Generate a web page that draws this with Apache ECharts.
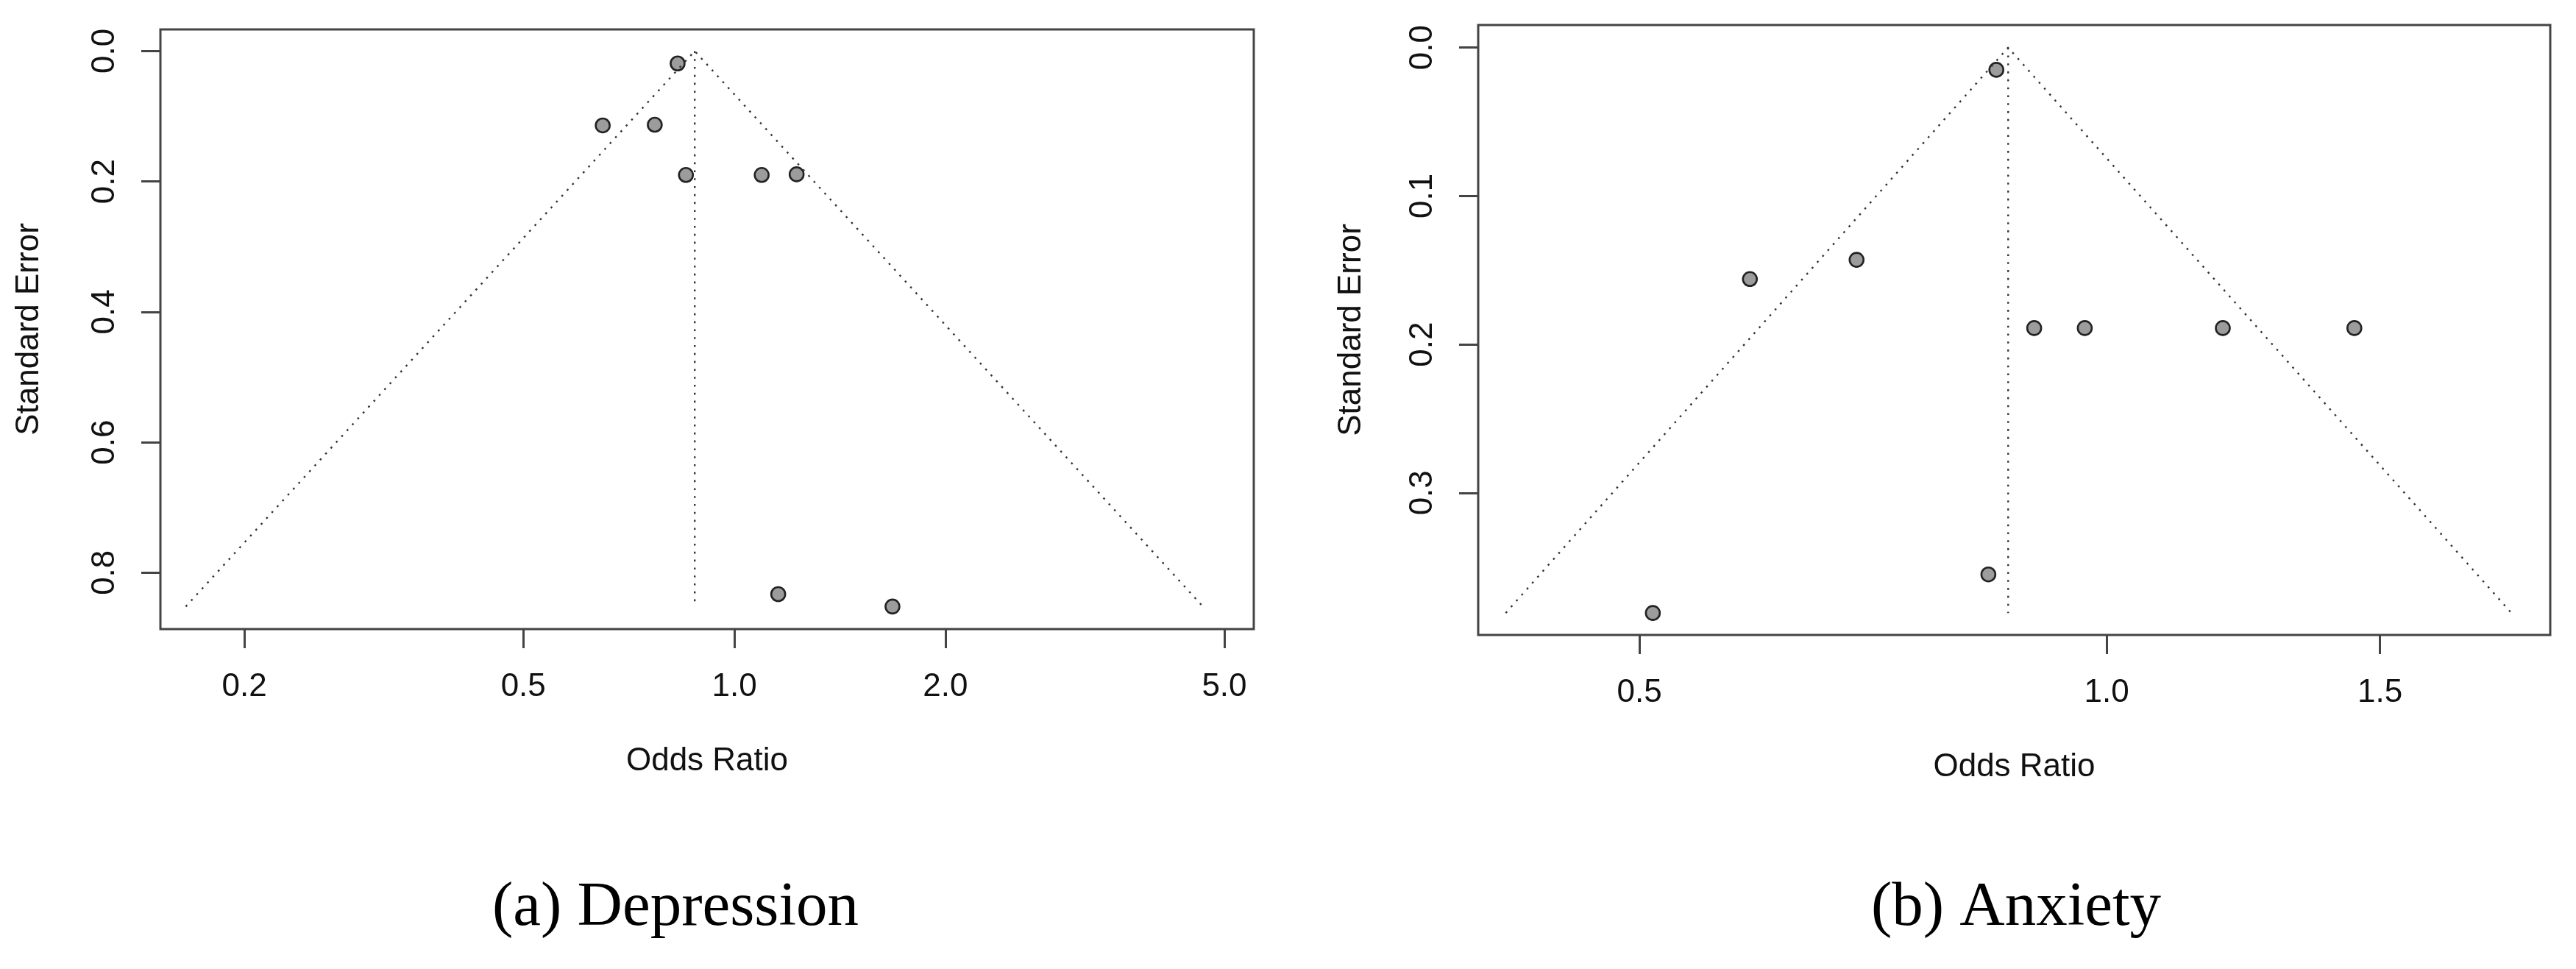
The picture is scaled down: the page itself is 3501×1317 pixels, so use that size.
<!DOCTYPE html>
<html>
<head>
<meta charset="utf-8">
<script src="https://cdn.jsdelivr.net/npm/echarts@6/dist/echarts.min.js"></script>
<style>
  html, body { margin: 0; padding: 0; background: #fff; }
  #chart { width: 3501px; height: 1317px; }
</style>
</head>
<body>
<div id="chart"></div>
<script>
// (a) Depression - odds ratio and standard error of each study
var depOR = [0.830, 0.649, 0.770, 0.853, 1.094, 1.227, 1.155, 1.681];
var depSE = [0.019, 0.114, 0.113, 0.190, 0.190, 0.189, 0.833, 0.852];
// pooled estimate, funnel edges at the largest SE
var depPooled = 0.878;
var depFunnelOR = [0.165, 0.878, 4.66];
var depFunnelSE = [0.852, 0, 0.852];

// (b) Anxiety
var anxOR = [0.849, 0.589, 0.690, 0.898, 0.968, 1.188, 1.444, 0.839, 0.510];
var anxSE = [0.015, 0.156, 0.143, 0.189, 0.189, 0.189, 0.189, 0.355, 0.381];
var anxPooled = 0.864;
var anxFunnelOR = [0.410, 0.864, 1.823];
var anxFunnelSE = [0.381, 0, 0.381];

// tick labels
var depXTicks = [0.2, 0.5, 1.0, 2.0, 5.0];
var depYTicks = [0.0, 0.2, 0.4, 0.6, 0.8];
var anxXTicks = [0.5, 1.0, 1.5];
var anxYTicks = [0.0, 0.1, 0.2, 0.3];

var captions = ['(a) Depression', '(b) Anxiety'];

var FONT = 'Liberation Sans';
var AXIS_COLOR = '#444';

function zip(xs, ys) {
    return xs.map(function (x, i) { return [x, ys[i]]; });
}

function xAxisFor(idx, min, max, ticks) {
    return {
        type: 'log',
        logBase: 10,
        gridIndex: idx,
        position: 'bottom',
        min: min,
        max: max,
        name: 'Odds Ratio',
        nameLocation: 'middle',
        nameGap: 158,
        nameTextStyle: {fontSize: 44, fontFamily: FONT, color: '#111'},
        axisLine: {show: false, onZero: false},
        axisTick: {
            show: true, length: 26, customValues: ticks,
            lineStyle: {color: AXIS_COLOR, width: 3}
        },
        axisLabel: {
            customValues: ticks, margin: 57,
            fontSize: 44, fontFamily: FONT, color: '#111',
            formatter: function (v) { return Number(v).toFixed(1); }
        },
        splitLine: {show: false},
        minorTick: {show: false}
    };
}

function yAxisFor(idx, min, max, ticks, gap) {
    return {
        type: 'value',
        gridIndex: idx,
        position: 'left',
        inverse: true,
        min: min,
        max: max,
        name: 'Standard Error',
        nameLocation: 'middle',
        nameGap: gap,
        nameTextStyle: {fontSize: 44, fontFamily: FONT, color: '#111'},
        axisLine: {show: false, onZero: false},
        axisTick: {
            show: true, length: 26, customValues: ticks,
            lineStyle: {color: AXIS_COLOR, width: 3}
        },
        axisLabel: {
            customValues: ticks, margin: 53, rotate: 90,
            fontSize: 44, fontFamily: FONT, color: '#111',
            formatter: function (v) { return Number(v).toFixed(1); }
        },
        splitLine: {show: false}
    };
}

var dotted = {color: '#333', width: 2.4, type: [2.6, 8.2]};

function funnelSeries(idx, fOR, fSE, pooled) {
    return [
        {
            type: 'line', xAxisIndex: idx, yAxisIndex: idx,
            data: zip(fOR, fSE),
            symbol: 'none', lineStyle: dotted, silent: true
        },
        {
            type: 'line', xAxisIndex: idx, yAxisIndex: idx,
            data: [[pooled, 0], [pooled, fSE[0]]],
            symbol: 'none', lineStyle: dotted, silent: true
        }
    ];
}

function pointSeries(idx, ors, ses) {
    return {
        type: 'scatter', xAxisIndex: idx, yAxisIndex: idx,
        data: zip(ors, ses),
        symbol: 'circle',
        symbolSize: 19,
        itemStyle: {color: '#9c9c9c', borderColor: '#222', borderWidth: 2.6, opacity: 1}
    };
}

var chart = echarts.init(document.getElementById('chart'), null, {renderer: 'canvas'});

chart.setOption({
    backgroundColor: '#fff',
    animation: false,
    grid: [
        {left: 218, top: 40, width: 1486, height: 815, show: true,
            borderColor: AXIS_COLOR, borderWidth: 3, backgroundColor: 'transparent',
            outerBoundsMode: 'none'},
        {left: 2009, top: 34, width: 1457, height: 829, show: true,
            borderColor: AXIS_COLOR, borderWidth: 3, backgroundColor: 'transparent',
            outerBoundsMode: 'none'}
    ],
    xAxis: [
        xAxisFor(0, 0.1518, 5.508, depXTicks),
        xAxisFor(1, 0.3936, 1.931, anxXTicks)
    ],
    yAxis: [
        yAxisFor(0, -0.0332, 0.8866, depYTicks, 156),
        yAxisFor(1, -0.0152, 0.3958, anxYTicks, 150)
    ],
    series: []
        .concat(funnelSeries(0, depFunnelOR, depFunnelSE, depPooled))
        .concat([pointSeries(0, depOR, depSE)])
        .concat(funnelSeries(1, anxFunnelOR, anxFunnelSE, anxPooled))
        .concat([pointSeries(1, anxOR, anxSE)]),
    graphic: [
        {
            type: 'text', x: 918, y: 1235,
            style: {
                text: captions[0], fontSize: 85, fontFamily: 'Liberation Serif',
                fill: '#000', align: 'center', verticalAlign: 'middle'
            }
        },
        {
            type: 'text', x: 2740, y: 1235,
            style: {
                text: captions[1], fontSize: 85, fontFamily: 'Liberation Serif',
                fill: '#000', align: 'center', verticalAlign: 'middle'
            }
        }
    ]
});
</script>
</body>
</html>
